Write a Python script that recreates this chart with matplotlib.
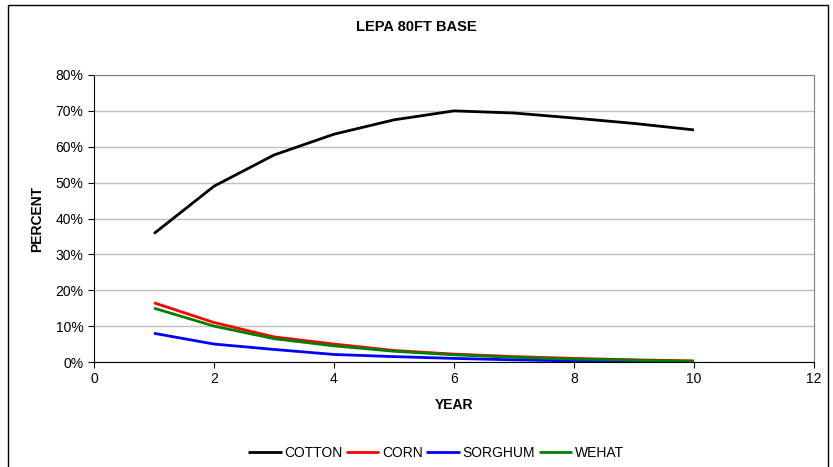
import matplotlib
matplotlib.use("Agg")
import matplotlib.pyplot as plt
from matplotlib.patches import Rectangle
from matplotlib.ticker import PercentFormatter

plt.rcParams['font.family'] = ['Liberation Sans', 'DejaVu Sans']

years = [1, 2, 3, 4, 5, 6, 7, 8, 9, 10]
cotton = [35.8, 49.0, 57.7, 63.5, 67.5, 70.0, 69.4, 68.0, 66.5, 64.7]
corn = [16.5, 11.0, 7.0, 5.0, 3.2, 2.2, 1.5, 1.0, 0.6, 0.3]
sorghum = [8.0, 5.0, 3.5, 2.1, 1.5, 1.0, 0.6, 0.3, 0.2, 0.1]
wehat = [15.0, 10.0, 6.5, 4.5, 3.0, 2.0, 1.3, 0.8, 0.5, 0.2]

series = [("COTTON", cotton, "black"), ("CORN", corn, "#ff0000"),
          ("SORGHUM", sorghum, "#0000ff"), ("WEHAT", wehat, "#008000")]

fig = plt.figure(figsize=(8.33, 4.67), dpi=100)
ax = fig.add_axes([94/833, 1-362/467, (814-94)/833, (362-75)/467])

for name, vals, c in series:
    ax.plot(years, vals, color=c, lw=2, label=name, solid_capstyle='butt')

ax.set_xlim(0, 12)
ax.set_ylim(0, 80)
ax.set_xticks(range(0, 13, 2))
ax.set_yticks(range(0, 81, 10))
ax.yaxis.set_major_formatter(PercentFormatter(decimals=0))
ax.grid(axis='y', color='#c0c0c0', lw=1)
ax.set_axisbelow(True)
for s in ['top', 'right']:
    ax.spines[s].set_color('#808080')
for s in ['left', 'bottom']:
    ax.spines[s].set_color('black')
ax.tick_params(direction='out', length=4, labelsize=10, colors='black')

ax.set_xlabel("YEAR", fontsize=10, fontweight='bold', labelpad=8)
ax.set_ylabel("PERCENT", fontsize=10, fontweight='bold', labelpad=8)
fig.text(0.5, 1-27/467, "LEPA 80FT BASE", ha='center', va='center',
         fontsize=10.5, fontweight='bold')

fig.legend(loc='center', bbox_to_anchor=(436/833, 1-453/467), ncol=4,
           frameon=False, fontsize=10, handlelength=2.4, columnspacing=0.25,
           handletextpad=0.2)

fig.patches.append(Rectangle((8/833, -0.1), (828-8)/833, 1.1 - 5/467,
                             transform=fig.transFigure, fill=False,
                             edgecolor='black', lw=1))

fig.savefig("out.png", dpi=100)
